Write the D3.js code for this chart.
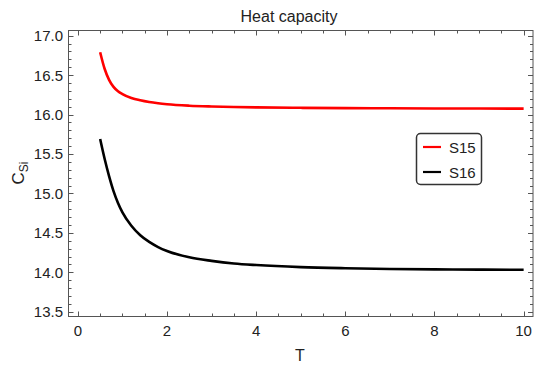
<!DOCTYPE html>
<html><head><meta charset="utf-8">
<script src="https://cdn.jsdelivr.net/npm/d3@7"></script>
<style>
body{margin:0;background:#fff;}
text{font-family:"Liberation Sans",Arial,sans-serif;}
</style></head>
<body><svg id="c" width="542" height="370"></svg>
<script>
const temps = [0.5,0.6,0.7,0.8,0.9,1.0,1.2,1.4,1.6,1.8,2.0,2.5,3,3.5,4,5,6,7,8,9,10];
const s15 = [16.79,16.58,16.44,16.35,16.295,16.26,16.21,16.18,16.158,16.142,16.13,16.112,16.102,16.095,16.09,16.085,16.081,16.079,16.077,16.076,16.075];
const s16 = [15.69,15.44,15.22,15.03,14.88,14.76,14.59,14.47,14.385,14.32,14.27,14.19,14.145,14.112,14.092,14.066,14.052,14.043,14.037,14.034,14.032];
const seriesNames = ["S15","S16"];
const seriesColors = ["#ff0000","#000000"];
const xTicks = [0,2,4,6,8,10];
const yTicks = [13.5,14.0,14.5,15.0,15.5,16.0,16.5,17.0];

const svg = d3.select("#c");
const L=68.5, R=533, T=30.5, B=316.5;
const x = d3.scaleLinear().domain([-0.21,10.21]).range([L,R]);
const y = d3.scaleLinear().domain([13.44,17.065]).range([B,T]);

const fc="#555";
const xMinor = d3.range(0,10.01,0.5);
const yMinor = d3.range(13.5,17.001,0.1);
const g = svg.append("g");
xMinor.forEach(v=>{
  const major = xTicks.some(t=>Math.abs(t-v)<1e-6);
  const len = major?5:3;
  const px = Math.round(x(v))+0.5;
  g.append("line").attr("x1",px).attr("x2",px).attr("y1",B).attr("y2",B-len).attr("stroke",fc);
  g.append("line").attr("x1",px).attr("x2",px).attr("y1",T).attr("y2",T+len).attr("stroke",fc);
});
yMinor.forEach(v=>{
  const major = yTicks.some(t=>Math.abs(t-v)<1e-6);
  const len = major?5:3;
  const py = Math.round(y(v))+0.5;
  g.append("line").attr("y1",py).attr("y2",py).attr("x1",L).attr("x2",L+len).attr("stroke",fc);
  g.append("line").attr("y1",py).attr("y2",py).attr("x1",R).attr("x2",R-len).attr("stroke",fc);
});
svg.append("rect").attr("x",L).attr("y",T).attr("width",R-L).attr("height",B-T)
  .attr("fill","none").attr("stroke",fc).attr("stroke-width",1);

svg.append("g").selectAll("text").data(xTicks).join("text")
  .attr("x",d=>x(d)).attr("y",336).attr("text-anchor","middle")
  .attr("font-size",15).attr("fill","#222").text(d=>d);
svg.append("g").selectAll("text").data(yTicks).join("text")
  .attr("x",63).attr("y",d=>y(d)+5.5).attr("text-anchor","end")
  .attr("font-size",15).attr("fill","#222").text(d=>d.toFixed(1));

svg.append("text").attr("x",289).attr("y",21.5).attr("text-anchor","middle")
  .attr("font-size",16).attr("fill","#222").text("Heat capacity");
svg.append("text").attr("x",300).attr("y",361).attr("text-anchor","middle")
  .attr("font-size",16).attr("fill","#222").text("T");
const yt = svg.append("text").attr("transform","translate(24,173) rotate(-90)")
  .attr("text-anchor","middle").attr("font-size",17).attr("fill","#222");
yt.append("tspan").text("C");
yt.append("tspan").attr("font-size",12).attr("dy",4).text("Si");

const line = d3.line().x(d=>x(d[0])).y(d=>y(d[1])).curve(d3.curveMonotoneX);
[s15,s16].forEach((s,i)=>{
  svg.append("path").datum(temps.map((t,j)=>[t,s[j]]))
    .attr("d",line).attr("fill","none").attr("stroke",seriesColors[i])
    .attr("stroke-width",2.6).attr("stroke-linejoin","round");
});

const lg = svg.append("g");
lg.append("rect").attr("x",416.5).attr("y",133.5).attr("width",65).attr("height",51)
  .attr("rx",4).attr("fill","#fff").attr("stroke","#333").attr("stroke-width",1.5);
seriesNames.forEach((n,i)=>{
  const yy = 147 + i*25;
  lg.append("line").attr("x1",423).attr("x2",441).attr("y1",yy).attr("y2",yy)
    .attr("stroke",seriesColors[i]).attr("stroke-width",2.2);
  lg.append("text").attr("x",449).attr("y",yy+5.5).attr("font-size",15).attr("fill","#222").text(n);
});
</script></body></html>
